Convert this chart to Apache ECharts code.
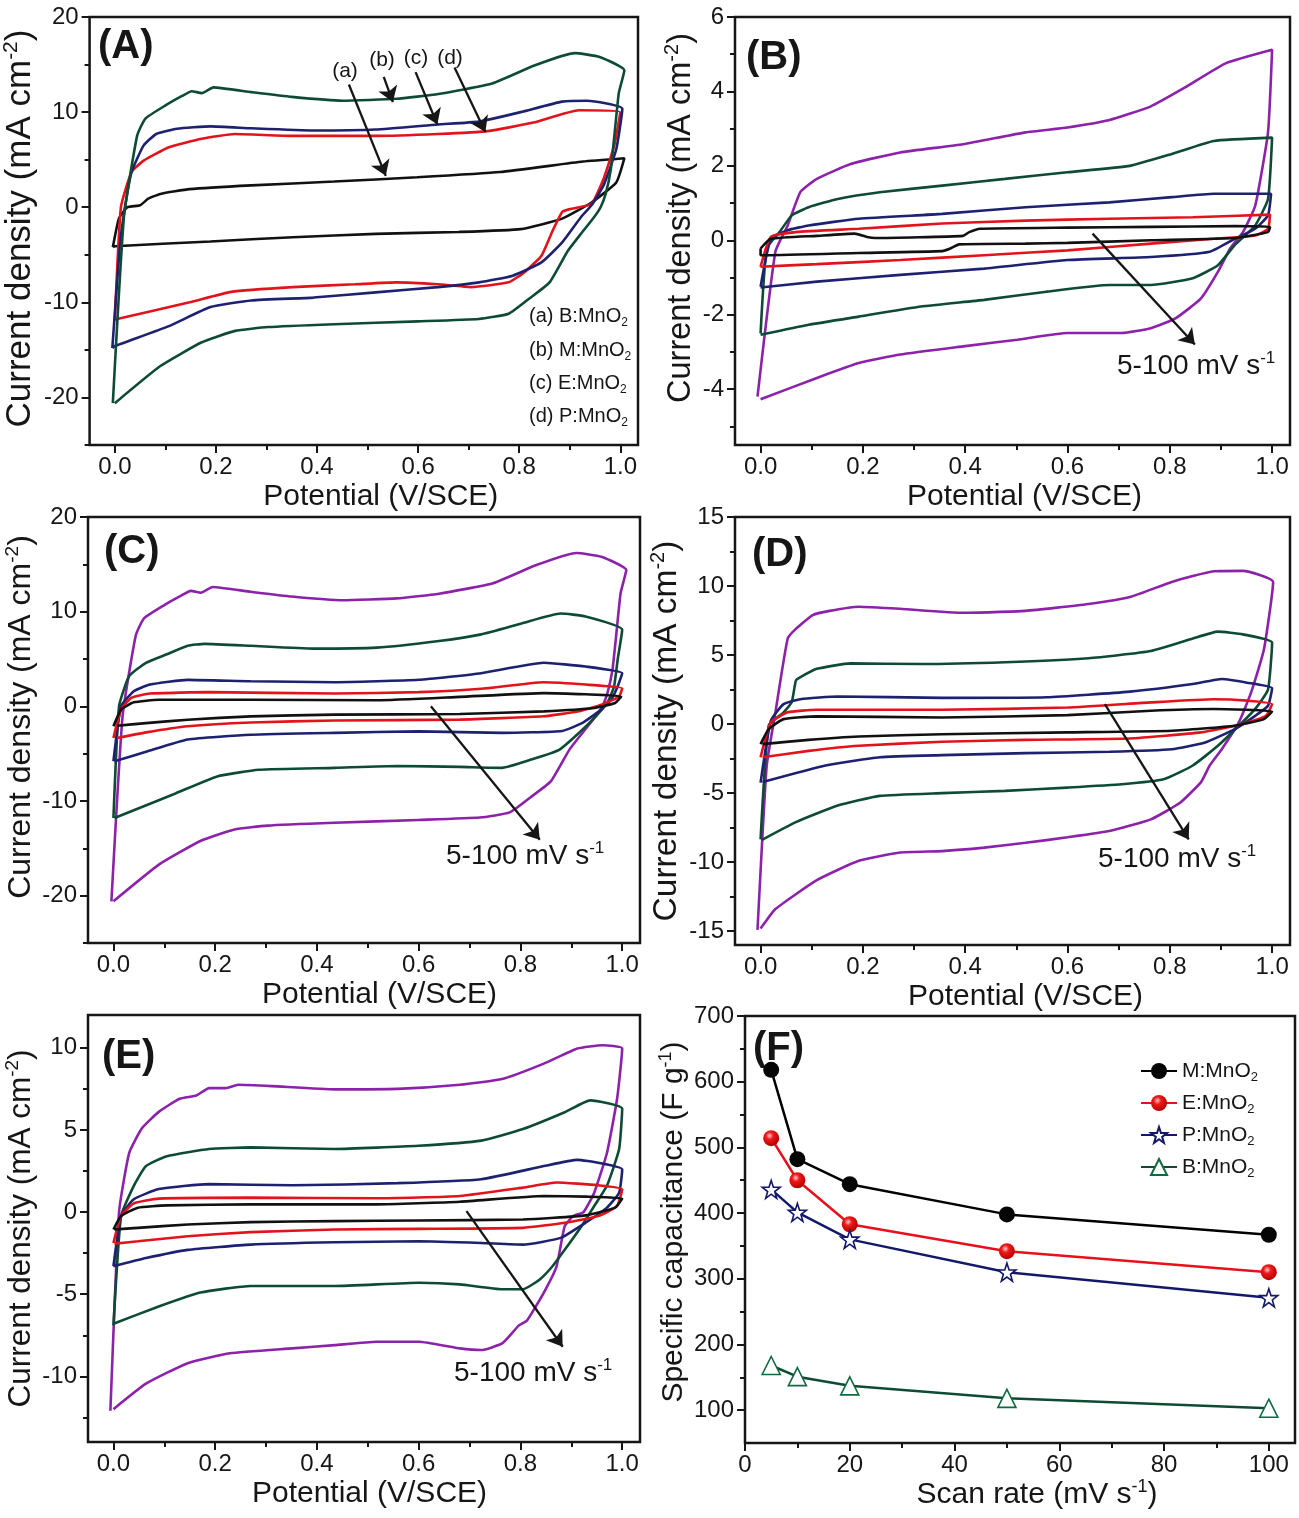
<!DOCTYPE html>
<html><head><meta charset="utf-8">
<script src="https://cdn.jsdelivr.net/npm/echarts@6/dist/echarts.min.js"></script>
<style>html,body{margin:0;padding:0;background:#fff}#c{width:1299px;height:1518px}</style>
</head><body><div id="c"></div>
<script>
// ---------------- tick labels ----------------
const potTicks = [0, 0.2, 0.4, 0.6, 0.8, 1.0];
const potMinor = [0.1, 0.3, 0.5, 0.7, 0.9];
const yTicksAC = [-20, -10, 0, 10, 20];
const yMinorAC = [-25, -15, -5, 5, 15];
const yTicksB = [-4, -2, 0, 2, 4, 6];
const yMinorB = [-5, -3, -1, 1, 3, 5];
const yTicksD = [-15, -10, -5, 0, 5, 10, 15];
const yMinorD = [-12.5, -7.5, -2.5, 2.5, 7.5, 12.5];
const yTicksE = [-10, -5, 0, 5, 10];
const yMinorE = [-12.5, -7.5, -2.5, 2.5, 7.5];
const rateTicks = [0, 20, 40, 60, 80, 100];
const rateMinor = [10, 30, 50, 70, 90];
const capTicks = [100, 200, 300, 400, 500, 600, 700];
const capMinor = [150, 250, 350, 450, 550, 650];

// ---------------- panel A: CV loops of the four electrodes ----------------
const A_a = [[-0.004,-4.2],[0.008,-1.2],[0.025,0],[0.05,0.2],[0.066,0.9],[0.09,1.4],[0.148,1.9],[0.27,2.3],[0.434,2.7],[0.598,3.15],[0.762,3.7],[0.926,4.8],[1.008,5.15],
  [0.992,2.6],[0.943,0.5],[0.885,-1.2],[0.803,-2.3],[0.68,-2.6],[0.516,-2.8],[0.352,-3.15],[0.189,-3.6],[0,-4.1],[-0.004,-4.2]];
const A_b = [[-0.004,-20.6],[0.018,-1.0],[0.044,7.5],[0.06,9.3],[0.1,10.7],[0.133,11.7],[0.152,12.2],[0.172,12.0],[0.195,12.6],[0.27,12.1],[0.35,11.6],[0.45,11.2],[0.557,11.4],[0.64,11.9],[0.746,13.0],[0.83,14.9],[0.91,16.2],[0.959,15.8],[1.008,14.4],
  [0.997,12],[0.988,7.4],[0.981,3.9],[0.971,1.4],[0.961,0],[0.948,-1.05],[0.922,-2.8],[0.896,-4.6],[0.86,-7.9],[0.82,-9.6],[0.779,-11.2],[0.72,-11.75],[0.6,-12.0],[0.434,-12.3],[0.303,-12.6],[0.238,-13.0],[0.172,-14.2],[0.09,-16.7],[0,-20.6]];
const A_c = [[-0.005,-14.8],[0.01,-4],[0.02,0],[0.033,3.7],[0.057,6.5],[0.082,7.7],[0.123,8.25],[0.189,8.5],[0.27,8.3],[0.393,8.07],[0.516,8.17],[0.639,8.7],[0.72,9.0],[0.803,10.0],[0.885,11.1],[0.934,11.2],[1.004,10.35],
  [0.992,6.1],[0.967,2.3],[0.943,0.2],[0.922,-1.05],[0.885,-3.7],[0.844,-5.8],[0.787,-7.2],[0.721,-7.9],[0.639,-8.4],[0.516,-8.95],[0.393,-9.5],[0.27,-9.8],[0.189,-10.5],[0.107,-12.5],[0,-14.6],[-0.005,-14.8]];
const A_d = [[0,-11.8],[0.012,0],[0.033,3.7],[0.057,4.9],[0.107,6.3],[0.172,7.2],[0.238,7.7],[0.352,7.5],[0.516,7.5],[0.639,7.7],[0.738,8.0],[0.828,8.9],[0.918,10.2],[1.0,10.0],
  [0.988,6.5],[0.967,3.0],[0.943,0.35],[0.9,-0.2],[0.885,-0.5],[0.865,-2.6],[0.844,-5.1],[0.811,-6.8],[0.779,-7.9],[0.705,-8.4],[0.639,-8.1],[0.557,-7.9],[0.475,-8.1],[0.352,-8.4],[0.23,-8.9],[0.148,-10],[0,-11.8]];

// ---------------- panel B: B:MnO2 at 5,10,20,50,100 mV/s ----------------
const B_100 = [[-0.006,-4.2],[0.029,-0.3],[0.053,0.4],[0.078,1.3],[0.11,1.65],[0.176,2.05],[0.273,2.36],[0.396,2.58],[0.518,2.9],[0.6,3.03],[0.682,3.23],[0.763,3.6],[0.829,4.1],[0.91,4.76],[1.0,5.12],
  [0.992,2.9],[0.967,0.93],[0.943,0.22],[0.918,-0.22],[0.894,-0.85],[0.861,-1.56],[0.812,-2.09],[0.763,-2.36],[0.706,-2.49],[0.6,-2.49],[0.502,-2.67],[0.396,-2.85],[0.273,-3.07],[0.192,-3.3],[0.11,-3.7],[0,-4.27]];
const B_50 = [[0,-2.5],[0.012,-0.22],[0.037,0.22],[0.061,0.67],[0.094,0.89],[0.151,1.11],[0.233,1.29],[0.355,1.47],[0.478,1.65],[0.6,1.83],[0.722,2.0],[0.804,2.32],[0.886,2.67],[1.0,2.76],
  [0.992,1.11],[0.967,0.4],[0.927,-0.13],[0.894,-0.67],[0.845,-1.02],[0.763,-1.2],[0.682,-1.2],[0.559,-1.38],[0.437,-1.6],[0.314,-1.78],[0.192,-2.05],[0.094,-2.27],[0,-2.54]];
const B_20 = [[0,-1.25],[0.02,0.04],[0.053,0.27],[0.094,0.4],[0.192,0.58],[0.355,0.71],[0.518,0.89],[0.682,1.02],[0.804,1.16],[0.886,1.25],[0.998,1.25],
  [0.992,0.67],[0.967,0.31],[0.927,0.04],[0.878,-0.31],[0.763,-0.45],[0.6,-0.53],[0.437,-0.76],[0.273,-0.93],[0.11,-1.11],[0,-1.27]];
const B_10 = [[0,-0.71],[0.02,0.09],[0.069,0.22],[0.192,0.31],[0.355,0.45],[0.518,0.53],[0.682,0.58],[0.845,0.62],[0.996,0.69],
  [0.992,0.31],[0.967,0.13],[0.886,0.04],[0.763,-0.09],[0.6,-0.27],[0.437,-0.4],[0.273,-0.53],[0.11,-0.64],[0,-0.71]];
const B_5 = [[0,-0.22],[0.02,0.04],[0.11,0.12],[0.184,0.18],[0.208,0.09],[0.224,0.06],[0.396,0.12],[0.408,0.22],[0.429,0.31],[0.6,0.34],[0.763,0.36],[0.927,0.38],[0.996,0.36],
  [0.992,0.22],[0.927,0.06],[0.763,0],[0.6,-0.07],[0.518,-0.09],[0.388,-0.11],[0.371,-0.22],[0.355,-0.29],[0.192,-0.34],[0.012,-0.4],[0,-0.4],[0,-0.22]];

// ---------------- panel C: M:MnO2 ----------------
const C_100 = A_b;
const C_50 = [[0,-11.8],[0.011,0],[0.031,3.2],[0.064,4.6],[0.105,5.5],[0.146,6.4],[0.179,6.6],[0.27,6.4],[0.393,6.1],[0.517,6.2],[0.64,6.9],[0.723,7.6],[0.805,8.8],[0.879,9.8],[0.928,9.5],[1.0,8.1],
  [0.991,4.9],[0.984,2.1],[0.971,0.4],[0.948,-1.05],[0.915,-2.8],[0.876,-4.6],[0.823,-5.6],[0.764,-6.5],[0.681,-6.4],[0.558,-6.3],[0.435,-6.5],[0.286,-6.7],[0.204,-7.4],[0.122,-9.2],[0.002,-11.8]];
const C_20 = [[0,-5.8],[0.015,0],[0.04,1.6],[0.072,2.3],[0.146,2.8],[0.27,2.65],[0.435,2.55],[0.6,2.8],[0.723,3.5],[0.846,4.6],[0.928,4.2],[1.0,3.5],
  [0.991,2.1],[0.978,0.7],[0.955,-0.5],[0.922,-1.75],[0.882,-2.6],[0.764,-2.8],[0.6,-2.65],[0.435,-2.8],[0.27,-3.0],[0.146,-3.5],[0.064,-4.8],[0.002,-5.8]];
const C_10 = [[0,-3.35],[0.015,-0.35],[0.035,0.9],[0.072,1.35],[0.188,1.5],[0.435,1.35],[0.6,1.5],[0.723,1.85],[0.846,2.55],[0.928,2.3],[1.0,1.9],
  [0.994,1.05],[0.961,0.2],[0.912,-0.55],[0.846,-1.05],[0.681,-1.4],[0.435,-1.5],[0.27,-1.7],[0.146,-2.1],[0.064,-2.75],[0.007,-3.35]];
const C_5 = [[0,-2.1],[0.015,-0.35],[0.04,0.42],[0.089,0.7],[0.27,0.7],[0.517,0.64],[0.681,1.0],[0.846,1.4],[0.928,1.27],[0.998,1.05],
  [0.986,0.35],[0.945,-0.18],[0.846,-0.53],[0.681,-0.81],[0.435,-0.88],[0.27,-1.06],[0.146,-1.41],[0.064,-1.77],[0.007,-2.05]];

// ---------------- panel D: P:MnO2 ----------------
const D_100 = [[-0.006,-14.9],[0.012,-3.0],[0.029,0.85],[0.053,6.2],[0.069,6.9],[0.102,7.9],[0.135,8.2],[0.192,8.5],[0.273,8.35],[0.396,8.06],[0.518,8.2],[0.641,8.7],[0.722,9.2],[0.804,10.3],[0.886,11.07],[0.943,11.1],[1.002,10.3],
  [0.984,5.4],[0.959,2.3],[0.935,0.12],[0.902,-1.8],[0.878,-3.0],[0.861,-4.2],[0.82,-5.7],[0.763,-6.9],[0.682,-7.75],[0.6,-8.2],[0.518,-8.6],[0.437,-8.95],[0.355,-9.2],[0.273,-9.3],[0.192,-9.9],[0.11,-11.3],[0.029,-13.4],[0,-14.8]];
const D_50 = [[0,-8.35],[0.016,-0.1],[0.045,0.85],[0.061,1.6],[0.069,3.15],[0.078,3.4],[0.11,4.0],[0.176,4.4],[0.314,4.35],[0.478,4.48],[0.641,4.77],[0.763,5.3],[0.845,6.2],[0.894,6.7],[0.943,6.5],[1.0,5.9],
  [0.992,2.5],[0.967,1.1],[0.935,-0.12],[0.894,-1.57],[0.845,-3.0],[0.788,-4.0],[0.706,-4.36],[0.6,-4.6],[0.478,-4.84],[0.355,-5.0],[0.233,-5.2],[0.151,-5.9],[0.069,-7.1],[0.002,-8.4]];
const D_20 = [[0,-4.24],[0.02,0.24],[0.045,1.45],[0.078,1.8],[0.151,2.0],[0.355,1.9],[0.559,1.94],[0.722,2.35],[0.845,2.9],[0.902,3.27],[0.951,3.0],[1.0,2.6],
  [0.992,1.33],[0.967,0.6],[0.927,-0.36],[0.869,-1.33],[0.804,-1.82],[0.682,-2.0],[0.518,-2.1],[0.355,-2.25],[0.233,-2.4],[0.127,-3.0],[0.004,-4.2]];
const D_10 = [[0,-2.4],[0.02,0.12],[0.053,0.85],[0.11,1.04],[0.355,1.04],[0.6,1.2],[0.763,1.57],[0.886,1.8],[0.951,1.7],[1.0,1.45],
  [0.988,0.6],[0.943,0],[0.861,-0.6],[0.722,-1.04],[0.518,-1.14],[0.355,-1.28],[0.192,-1.57],[0.094,-1.94],[0.004,-2.4]];
const D_5 = [[0,-1.45],[0.016,-0.36],[0.045,0.36],[0.11,0.56],[0.355,0.48],[0.6,0.65],[0.763,0.97],[0.886,1.09],[1.0,0.92],
  [0.984,0.36],[0.927,-0.12],[0.804,-0.48],[0.6,-0.6],[0.355,-0.73],[0.192,-0.9],[0.094,-1.14],[0.004,-1.45]];

// ---------------- panel E: E:MnO2 ----------------
const E_100 = [[-0.006,-12.1],[0.011,0],[0.031,3.6],[0.056,5.1],[0.089,6.1],[0.13,6.9],[0.163,7.1],[0.188,7.55],[0.221,7.55],[0.245,7.75],[0.311,7.67],[0.435,7.47],[0.558,7.5],[0.681,7.75],[0.764,8.1],[0.846,9.04],[0.912,9.96],[0.961,10.16],[1.0,9.96],
  [0.99,6.9],[0.97,3.6],[0.945,1.18],[0.924,0],[0.904,-0.24],[0.887,-0.86],[0.871,-3.3],[0.846,-4.9],[0.813,-6.6],[0.797,-6.9],[0.764,-8.0],[0.723,-8.4],[0.681,-8.3],[0.6,-7.9],[0.517,-7.9],[0.435,-8.1],[0.352,-8.3],[0.229,-8.6],[0.146,-9.2],[0.064,-10.45],[0,-12.0]];
const E_50 = [[0,-6.9],[0.015,-0.24],[0.04,1.6],[0.064,2.8],[0.105,3.4],[0.188,3.84],[0.27,3.94],[0.435,3.84],[0.6,4.04],[0.723,4.35],[0.805,5.06],[0.887,6.08],[0.937,6.8],[1.0,6.3],
  [0.994,3.84],[0.97,1.6],[0.945,0.37],[0.92,-0.86],[0.887,-2.3],[0.863,-3.3],[0.838,-4.1],[0.805,-4.7],[0.764,-4.7],[0.681,-4.4],[0.6,-4.3],[0.435,-4.5],[0.27,-4.5],[0.171,-4.9],[0.089,-5.75],[0,-6.8]];
const E_20 = [[0,-3.3],[0.015,-0.24],[0.04,0.78],[0.089,1.4],[0.188,1.7],[0.352,1.63],[0.558,1.76],[0.723,2.0],[0.846,2.8],[0.912,3.18],[0.953,3.0],[1.0,2.6],
  [0.994,1.18],[0.97,0.27],[0.928,-0.65],[0.879,-1.57],[0.805,-1.98],[0.723,-1.88],[0.6,-1.78],[0.435,-1.84],[0.27,-1.98],[0.146,-2.3],[0.064,-2.8],[0,-3.3]];
const E_10 = [[0,-1.88],[0.015,-0.24],[0.04,0.53],[0.089,0.82],[0.27,0.88],[0.517,0.84],[0.681,0.98],[0.805,1.49],[0.871,1.8],[0.953,1.63],[1.0,1.39],
  [0.99,0.37],[0.953,-0.24],[0.887,-0.65],[0.805,-0.96],[0.6,-1.02],[0.435,-1.06],[0.27,-1.22],[0.146,-1.47],[0.048,-1.78],[0.002,-1.92]];
const E_5 = [[0,-1.06],[0.015,-0.24],[0.048,0.27],[0.105,0.41],[0.27,0.47],[0.517,0.47],[0.681,0.63],[0.846,0.98],[0.928,0.94],[1.0,0.82],
  [0.986,0.27],[0.928,-0.2],[0.805,-0.45],[0.6,-0.51],[0.435,-0.55],[0.27,-0.61],[0.146,-0.76],[0.048,-0.96],[0.002,-1.06]];

// ---------------- panel F: specific capacitance vs scan rate ----------------
const scanRate = [5, 10, 20, 50, 100];
const cap_M = [618, 482, 444, 398, 367];
const cap_E = [514, 450, 383, 342, 310];
const cap_P = [436, 401, 360, 310, 271];
const cap_B = [168, 151, 137, 118, 103];

// ---------------- annotation arrows (data coords: x1,y1,x2,y2) ----------------
const arrowsA = [[0.463,12.9,0.536,3.3],[0.532,13.7,0.55,11.05],[0.595,14.2,0.638,8.7],[0.672,14.7,0.733,7.9]];
const arrowsB = [[0.649,0.18,0.849,-2.8]];
const arrowsC = [[0.624,0,0.838,-14.1]];
const arrowsD = [[0.673,1.45,0.837,-8.35]];
const arrowsE = [[0.694,0.06,0.883,-8.2]];

// ================= build =================
const FONT = '"Liberation Sans", Arial, Helvetica, sans-serif';
const INK = '#161616';
const COL = {k:'#111111', r:'#e3131b', b:'#1d2170', g:'#0e4b34', p:'#8c22aa'};
const potFmt = v => v.toFixed(1);
const numFmt = v => String(v);
const X_CV = [-0.05, 1.035];
const rateLoops = (l100,l50,l20,l10,l5) => [
  {d:l100,c:COL.p},{d:l50,c:COL.g},{d:l20,c:COL.b},{d:l10,c:COL.r},{d:l5,c:COL.k}];

const yNameCur = 'Current density (mA cm{sup|-2})';
const panels = [
  {grid:{left:88,top:17,width:550,height:428}, xr:X_CV, yr:[-25,20], xMaj:potTicks, xMin:potMinor, yMaj:yTicksAC, yMin:yMinorAC, xFmt:potFmt,
   xName:'Potential (V/SCE)', xGap:29, xPad:34, yName:yNameCur, yFs:35, yCenter:53, yUp:2.5,
   loops:[{d:A_a,c:COL.k},{d:A_d,c:COL.r},{d:A_c,c:COL.b},{d:A_b,c:COL.g}], arrows:arrowsA},
  {grid:{left:735,top:17,width:555,height:428}, xr:X_CV, yr:[-5.5,6], xMaj:potTicks, xMin:potMinor, yMaj:yTicksB, yMin:yMinorB, xFmt:potFmt,
   xName:'Potential (V/SCE)', xGap:29, xPad:24, yName:yNameCur, yFs:32.5, yCenter:39, yUp:13,
   loops:rateLoops(B_100,B_50,B_20,B_10,B_5), arrows:arrowsB},
  {grid:{left:88,top:517,width:552,height:426}, xr:X_CV, yr:[-25,20], xMaj:potTicks, xMin:potMinor, yMaj:yTicksAC, yMin:yMinorAC, xFmt:potFmt,
   xName:'Potential (V/SCE)', xGap:29, xPad:31, yName:yNameCur, yFs:32, yCenter:50, yUp:13,
   loops:rateLoops(C_100,C_50,C_20,C_10,C_5), arrows:arrowsC},
  {grid:{left:735,top:517,width:555,height:428}, xr:X_CV, yr:[-16,15], xMaj:potTicks, xMin:potMinor, yMaj:yTicksD, yMin:yMinorD, xFmt:potFmt,
   xName:'Potential (V/SCE)', xGap:30, xPad:26, yName:yNameCur, yFs:33.5, yCenter:53, yUp:0,
   loops:rateLoops(D_100,D_50,D_20,D_10,D_5), arrows:arrowsD},
  {grid:{left:88,top:1015,width:552,height:427}, xr:X_CV, yr:[-14,12], xMaj:potTicks, xMin:potMinor, yMaj:yTicksE, yMin:yMinorE, xFmt:potFmt,
   xName:'Potential (V/SCE)', xGap:32, xPad:11, yName:yNameCur, yFs:31.5, yCenter:49, yUp:0,
   loops:rateLoops(E_100,E_50,E_20,E_10,E_5), arrows:arrowsE},
  {grid:{left:745,top:1016,width:550,height:427}, xr:[0,105], yr:[50,700], xMaj:rateTicks, xMin:rateMinor, yMaj:capTicks, yMin:capMinor, xFmt:numFmt,
   xName:'Scan rate (mV s{sup|-1})', xGap:28, xPad:34, yName:'Specific capacitance (F g{sup|-1})', yFs:30, yCenter:70, yUp:7.5,
   loops:[], arrows:[]}
];

const option = {animation:false, backgroundColor:'#fff', grid:[], xAxis:[], yAxis:[], series:[], graphic:[]};

function supRich(fs, L){ return {sup:{fontSize:Math.round(fs*0.6), lineHeight:L-2*0.32*fs, verticalAlign:'top', fontFamily:FONT, color:INK}}; }

panels.forEach((p, gi) => {
  option.grid.push(Object.assign({show:true, borderColor:INK, borderWidth:2.5, backgroundColor:'rgba(0,0,0,0)'}, p.grid));
  const xi = option.xAxis.length, yi = option.yAxis.length;
  const tickStyle = {color:INK, width:2};
  const xL = 34;
  const noLine = {show:false, onZero:false};
  option.xAxis.push({gridIndex:gi, type:'value', position:'bottom', min:p.xr[0], max:p.xr[1],
    axisLine:noLine, splitLine:{show:false},
    axisTick:{show:true, length:8, lineStyle:tickStyle, customValues:p.xMaj},
    axisLabel:{show:true, customValues:p.xMaj, formatter:p.xFmt, fontSize:24, fontFamily:FONT, color:INK, margin:10},
    name:p.xName, nameLocation:'middle', nameGap:p.xGap,
    nameTextStyle:{fontSize:30, fontFamily:FONT, color:INK, lineHeight:xL, padding:[0,0,0,p.xPad], rich:supRich(30,xL)}});
  option.xAxis.push({gridIndex:gi, type:'value', position:'bottom', min:p.xr[0], max:p.xr[1],
    axisLine:noLine, splitLine:{show:false}, axisLabel:{show:false},
    axisTick:{show:true, length:5, lineStyle:tickStyle, customValues:p.xMin}});
  const yL = Math.round(p.yFs*1.1);
  option.yAxis.push({gridIndex:gi, type:'value', position:'left', min:p.yr[0], max:p.yr[1],
    axisLine:noLine, splitLine:{show:false},
    axisTick:{show:true, length:8, lineStyle:tickStyle, customValues:p.yMaj},
    axisLabel:{show:true, customValues:p.yMaj, formatter:numFmt, fontSize:24, fontFamily:FONT, color:INK, margin:11},
    name:p.yName, nameLocation:'middle', nameRotate:90, nameGap:p.yCenter - yL/2,
    nameTextStyle:{fontSize:p.yFs, fontFamily:FONT, color:INK, lineHeight:yL, padding:[0,0,0,2*p.yUp], rich:supRich(p.yFs,yL)}});
  option.yAxis.push({gridIndex:gi, type:'value', position:'left', min:p.yr[0], max:p.yr[1],
    axisLine:noLine, splitLine:{show:false}, axisLabel:{show:false},
    axisTick:{show:true, length:5, lineStyle:tickStyle, customValues:p.yMin}});
  p.loops.forEach((lp, k) => {
    const s = {type:'line', xAxisIndex:xi, yAxisIndex:yi, data:lp.d, symbol:'none', showSymbol:false,
      smooth:0.15, silent:true, lineStyle:{color:lp.c, width:2.6}, z:2};
    if (k === 0 && p.arrows.length) {
      s.markLine = {silent:true, animation:false, symbol:['none','arrow'], symbolSize:15, precision:4,
        lineStyle:{color:INK, width:2.3, type:'solid'}, label:{show:false}, emphasis:{disabled:true},
        data:p.arrows.map(a => [{coord:[a[0],a[1]]},{coord:[a[2],a[3]]}])};
    }
    option.series.push(s);
  });
  p._xi = xi; p._yi = yi;
});

// panel F series
const pF = panels[5];
const pairs = arr => scanRate.map((x,i) => [x, arr[i]]);
const STAR = 'path://M50,2 L61.5,36 L97,36 L68.5,57.5 L79,92 L50,71 L21,92 L31.5,57.5 L3,36 L38.5,36 Z';
option.series.push(
  {name:'M:MnO2', type:'line', xAxisIndex:pF._xi, yAxisIndex:pF._yi, data:pairs(cap_M), symbol:'circle', symbolSize:16,
   lineStyle:{color:'#000', width:2.5}, itemStyle:{color:'#050505'}, z:3},
  {name:'E:MnO2', type:'line', xAxisIndex:pF._xi, yAxisIndex:pF._yi, data:pairs(cap_E), symbol:'circle', symbolSize:16,
   lineStyle:{color:'#e8101c', width:2.5},
   itemStyle:{color:{type:'radial', x:0.4, y:0.35, r:0.65, colorStops:[{offset:0,color:'#ffd0d0'},{offset:0.35,color:'#f01a1a'},{offset:1,color:'#b30000'}]}}, z:3},
  {name:'P:MnO2', type:'line', xAxisIndex:pF._xi, yAxisIndex:pF._yi, data:pairs(cap_P), symbol:STAR, symbolSize:18,
   lineStyle:{color:'#14186a', width:2.5}, itemStyle:{color:'#ffffff', borderColor:'#14186a', borderWidth:1.6}, z:3},
  {name:'B:MnO2', type:'line', xAxisIndex:pF._xi, yAxisIndex:pF._yi, data:pairs(cap_B), symbol:'triangle', symbolSize:18,
   lineStyle:{color:'#0d4b33', width:2.5}, itemStyle:{color:'#ffffff', borderColor:'#0e6a40', borderWidth:1.6}, z:3}
);
option.legend = {data:['M:MnO2','E:MnO2','P:MnO2','B:MnO2'], orient:'vertical', left:1135, top:1053,
  itemWidth:36, itemHeight:20, itemGap:6, selectedMode:false,
  formatter: n => n.replace('MnO2','MnO{s|2}'),
  textStyle:{fontSize:21, fontFamily:FONT, color:INK, lineHeight:26,
    rich:{s:{fontSize:13, lineHeight:10, verticalAlign:'bottom', fontFamily:FONT, color:INK}}}};

// ---------------- texts ----------------
const panelLabels = [['(A)',98,47],['(B)',746,58],['(C)',104,552],['(D)',752,555],['(E)',102,1057],['(F)',753,1049]];
panelLabels.forEach(t => option.graphic.push({type:'text', x:t[1], y:t[2], silent:true,
  style:{text:t[0], fontSize:40, fontWeight:'bold', fontFamily:FONT, fill:INK, align:'left', verticalAlign:'middle'}}));

const curveTags = [['(a)',345,71],['(b)',382,60],['(c)',416,58],['(d)',450,58]];
curveTags.forEach(t => option.graphic.push({type:'text', x:t[1], y:t[2], silent:true,
  style:{text:t[0], fontSize:21, fontFamily:FONT, fill:INK, align:'center', verticalAlign:'middle'}}));

const legendA = [['(a) B:MnO{s|2}',316],['(b) M:MnO{s|2}',350],['(c) E:MnO{s|2}',383],['(d) P:MnO{s|2}',416]];
legendA.forEach(t => option.graphic.push({type:'text', x:529, y:t[1], silent:true,
  style:{text:t[0], fontSize:20, fontFamily:FONT, fill:INK, lineHeight:25, align:'left', verticalAlign:'middle',
    rich:{s:{fontSize:12, lineHeight:9, verticalAlign:'bottom', fontFamily:FONT, fill:INK}}}}));

const rateTexts = [[1117,366],[446,856],[1098,859],[454,1373]];
rateTexts.forEach(t => option.graphic.push({type:'text', x:t[0], y:t[1], silent:true,
  style:{text:'5-100 mV s{sup|-1}', fontSize:28, fontFamily:FONT, fill:INK, lineHeight:32, align:'left', verticalAlign:'middle',
    rich:{sup:{fontSize:17, lineHeight:14, verticalAlign:'top', fontFamily:FONT, fill:INK}}}}));

const chart = echarts.init(document.getElementById('c'), null, {renderer:'canvas'});
chart.setOption(option);
</script></body></html>
